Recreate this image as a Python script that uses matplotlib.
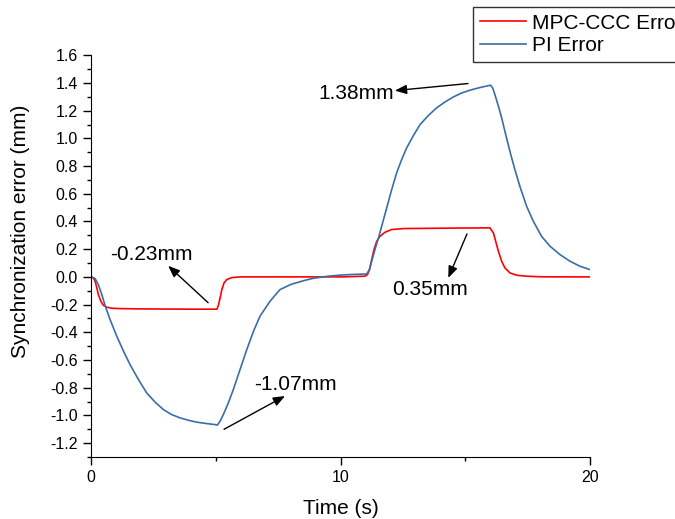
import matplotlib.pyplot as plt
from matplotlib.ticker import MultipleLocator

plt.rcParams['font.family'] = ['Liberation Sans', 'DejaVu Sans']

# MPC-CCC error
t_mpc = [0, 0.09, 0.16, 0.23, 0.29, 0.39, 0.49, 0.63, 0.83, 1.16, 2, 3, 4, 5.04,
         5.10, 5.17, 5.24, 5.33, 5.44, 5.64, 5.97, 7, 8, 9, 10, 10.98, 11.08, 11.16,
         11.25, 11.34, 11.45, 11.58, 11.78, 12.05, 12.52, 13.72, 15, 15.99, 16.13,
         16.22, 16.33, 16.46, 16.59, 16.79, 17.06, 17.46, 18, 19, 20]
e_mpc = [0, -0.008, -0.031, -0.08, -0.128, -0.176, -0.205, -0.219, -0.226, -0.229,
         -0.231, -0.232, -0.233, -0.233, -0.207, -0.152, -0.092, -0.043, -0.019,
         -0.005, 0, 0, 0, 0, 0, 0.005, 0.017, 0.053, 0.125, 0.197, 0.257, 0.293,
         0.322, 0.342, 0.349, 0.351, 0.353, 0.354, 0.317, 0.257, 0.185, 0.113, 0.065,
         0.029, 0.012, 0.005, 0.001, 0, 0]

# PI error
t_pi = [0, 0.027, 0.16, 0.29, 0.43, 0.56, 0.76, 1.03, 1.30, 1.56, 1.90, 2.23, 2.57,
        2.90, 3.23, 3.57, 3.90, 4.24, 4.64, 4.97, 5.06, 5.17, 5.30, 5.50, 5.70, 5.97,
        6.24, 6.51, 6.77, 7.17, 7.57, 8.0, 8.5, 8.91, 9.5, 10.0, 10.5, 11.05, 11.16,
        11.25, 11.38, 11.52, 11.65, 11.85, 12.05, 12.25, 12.45, 12.65, 12.92, 13.19,
        13.52, 13.85, 14.19, 14.52, 14.86, 15.19, 15.59, 15.93, 16.02, 16.10, 16.19,
        16.33, 16.46, 16.59, 16.79, 16.99, 17.19, 17.46, 17.73, 18.06, 18.40, 18.80,
        19.20, 19.60, 20.0]
e_pi = [0, 0, -0.012, -0.056, -0.128, -0.207, -0.308, -0.429, -0.537, -0.633, -0.742,
        -0.838, -0.905, -0.958, -0.994, -1.018, -1.035, -1.049, -1.059, -1.066, -1.07,
        -1.042, -0.994, -0.91, -0.814, -0.669, -0.525, -0.392, -0.284, -0.176, -0.092,
        -0.055, -0.028, -0.01, 0.005, 0.013, 0.018, 0.021, 0.053, 0.113, 0.197, 0.281,
        0.366, 0.498, 0.630, 0.751, 0.847, 0.931, 1.020, 1.10, 1.165, 1.22, 1.263,
        1.299, 1.328, 1.348, 1.367, 1.381, 1.384, 1.364, 1.316, 1.232, 1.148, 1.051,
        0.907, 0.775, 0.654, 0.51, 0.402, 0.293, 0.221, 0.161, 0.113, 0.077, 0.053]

# annotations: text, text pos, arrow tail, arrow head
notes = [
    ('-0.23mm', (2.41, 0.161), (4.69, -0.186), (3.09, 0.08)),
    ('-1.07mm', (8.21, -0.774), (5.33, -1.10), (7.77, -0.86)),
    ('1.38mm', (10.62, 1.323), (15.11, 1.396), (12.18, 1.345)),
    ('0.35mm', (13.59, -0.092), (15.07, 0.31), (14.32, -0.007)),
]

fig = plt.figure(figsize=(6.75, 5.19), dpi=100)
ax = fig.add_axes([0.135, 0.1195, 0.739, 0.774])

ax.plot(t_mpc, e_mpc, color='#ff0000', lw=1.2, label='MPC-CCC Error')
ax.plot(t_pi, e_pi, color='#3a6ea8', lw=1.2, label='PI Error')

for txt, tpos, tail, head in notes:
    ax.text(tpos[0], tpos[1], txt, fontsize=15, ha='center', va='center')
    ax.annotate('', xy=head, xytext=tail,
                arrowprops=dict(arrowstyle='-|>,head_length=0.5,head_width=0.2',
                                color='black', lw=1, mutation_scale=14,
                                shrinkA=0, shrinkB=0))

ax.set_xlim(0, 20)
ax.set_ylim(-1.3, 1.6)
ax.xaxis.set_major_locator(MultipleLocator(10))
ax.xaxis.set_minor_locator(MultipleLocator(5))
ax.yaxis.set_minor_locator(MultipleLocator(0.1))
ax.set_yticks([-1.2 + 0.2 * i for i in range(15)])
ax.set_yticklabels([f'{-1.2 + 0.2 * i:.1f}' for i in range(15)])
ax.tick_params(which='major', direction='out', length=6, width=1, labelsize=11.5)
ax.tick_params(which='minor', direction='out', length=3, width=1)
ax.spines['top'].set_visible(False)
ax.spines['right'].set_visible(False)

ax.set_xlabel('Time (s)', fontsize=15, labelpad=10)
ax.set_ylabel('Synchronization error (mm)', fontsize=15)
ax.yaxis.set_label_coords(-0.122, 0.563)

# legend box runs past the right edge, as in the original
leg = fig.legend(loc='upper left', bbox_to_anchor=(473 / 675, 1 - 7 / 519),
                 fontsize=15, frameon=True, fancybox=False, edgecolor='black',
                 handlelength=2.2, handletextpad=0.3, borderpad=0.32,
                 labelspacing=0.17, borderaxespad=0)
leg.get_frame().set_linewidth(1)

fig.savefig('out.png', dpi=100)
